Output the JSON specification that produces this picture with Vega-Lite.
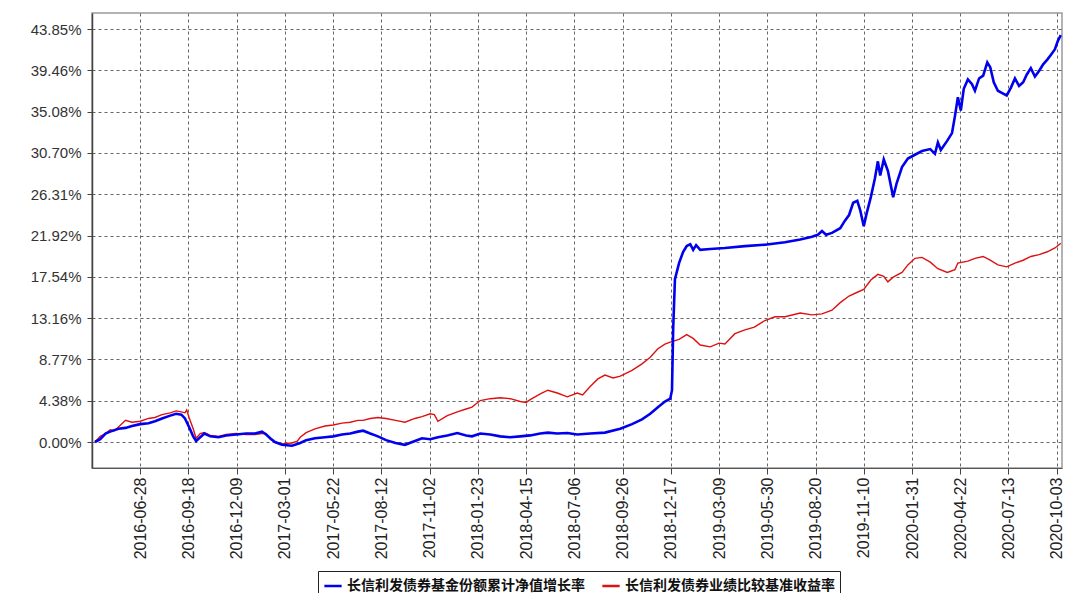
{
  "$schema": "https://vega.github.io/schema/vega-lite/v6.json",
  "width": 970,
  "height": 455,
  "autosize": {"type": "none"},
  "padding": {"left": 92, "top": 13, "right": 4, "bottom": 125},
  "background": "#ffffff",
  "config": {
    "view": {"stroke": "#9a9a9a", "strokeWidth": 1.5},
    "font": "Liberation Sans"
  },
  "encoding": {
    "x": {
      "field": "date",
      "type": "temporal",
      "scale": {"type": "utc", "domain": [{"year": 2016, "month": 4, "date": 7, "utc": true}, {"year": 2020, "month": 10, "date": 12, "utc": true}]},
      "axis": {
        "title": null,
        "values": [
          {"year": 2016, "month": 6, "date": 28, "utc": true},
          {"year": 2016, "month": 9, "date": 18, "utc": true},
          {"year": 2016, "month": 12, "date": 9, "utc": true},
          {"year": 2017, "month": 3, "date": 1, "utc": true},
          {"year": 2017, "month": 5, "date": 22, "utc": true},
          {"year": 2017, "month": 8, "date": 12, "utc": true},
          {"year": 2017, "month": 11, "date": 2, "utc": true},
          {"year": 2018, "month": 1, "date": 23, "utc": true},
          {"year": 2018, "month": 4, "date": 15, "utc": true},
          {"year": 2018, "month": 7, "date": 6, "utc": true},
          {"year": 2018, "month": 9, "date": 26, "utc": true},
          {"year": 2018, "month": 12, "date": 17, "utc": true},
          {"year": 2019, "month": 3, "date": 9, "utc": true},
          {"year": 2019, "month": 5, "date": 30, "utc": true},
          {"year": 2019, "month": 8, "date": 20, "utc": true},
          {"year": 2019, "month": 11, "date": 10, "utc": true},
          {"year": 2020, "month": 1, "date": 31, "utc": true},
          {"year": 2020, "month": 4, "date": 22, "utc": true},
          {"year": 2020, "month": 7, "date": 13, "utc": true},
          {"year": 2020, "month": 10, "date": 3, "utc": true}
        ],
        "labelExpr": "utcFormat(datum.value, '%Y-%m-%d')",
        "labelAngle": 270,
        "labelFontSize": 16,
        "labelColor": "#222222",
        "labelPadding": 3,
        "tickSize": 6,
        "tickColor": "#444444",
        "domainColor": "#555555",
        "grid": true,
        "gridColor": "#555555",
        "gridDash": [3, 3],
        "gridOpacity": 0.9
      }
    },
    "y": {
      "field": "value",
      "type": "quantitative",
      "scale": {"domain": [-2.76, 45.55], "nice": false, "zero": false},
      "axis": {
        "title": null,
        "values": [0, 4.38, 8.77, 13.16, 17.54, 21.92, 26.31, 30.70, 35.08, 39.46, 43.85],
        "labelExpr": "format(datum.value, '.2f') + '%'",
        "labelFontSize": 15,
        "labelColor": "#333333",
        "labelPadding": 6,
        "tickSize": 5,
        "tickColor": "#444444",
        "domainColor": "#444444",
        "domainWidth": 1.5,
        "grid": true,
        "gridColor": "#555555",
        "gridDash": [3, 3],
        "gridOpacity": 0.9
      }
    },
    "color": {
      "type": "nominal",
      "scale": {
        "domain": ["长信利发债券基金份额累计净值增长率", "长信利发债券业绩比较基准收益率"],
        "range": ["#0000ee", "#dd1111"]
      },
      "legend": {
        "title": null,
        "orient": "none",
        "legendX": 226,
        "legendY": 558,
        "direction": "horizontal",
        "symbolType": "stroke",
        "symbolSize": 300,
        "symbolStrokeWidth": 2.5,
        "labelFont": "Noto Sans CJK SC",
        "labelFontSize": 14,
        "labelFontWeight": "bold",
        "labelColor": "#111111",
        "labelLimit": 400,
        "columnPadding": 12,
        "strokeColor": "#222222",
        "padding": 5,
        "fillColor": "#ffffff"
      }
    }
  },
  "layer": [
    {
      "data": {"values": [
        {"date": "2016-04-12", "value": 0.0},
        {"date": "2016-04-21", "value": 0.6},
        {"date": "2016-04-30", "value": 0.9},
        {"date": "2016-05-08", "value": 1.3},
        {"date": "2016-05-15", "value": 1.2},
        {"date": "2016-05-22", "value": 1.6},
        {"date": "2016-06-03", "value": 2.3},
        {"date": "2016-06-14", "value": 2.1},
        {"date": "2016-06-28", "value": 2.2},
        {"date": "2016-07-12", "value": 2.5},
        {"date": "2016-07-23", "value": 2.6},
        {"date": "2016-08-04", "value": 2.9},
        {"date": "2016-08-18", "value": 3.1},
        {"date": "2016-08-28", "value": 3.3},
        {"date": "2016-09-06", "value": 3.2},
        {"date": "2016-09-12", "value": 3.1},
        {"date": "2016-09-15", "value": 3.4},
        {"date": "2016-09-19", "value": 2.6},
        {"date": "2016-09-26", "value": 1.4},
        {"date": "2016-10-01", "value": 0.4},
        {"date": "2016-10-08", "value": 0.9},
        {"date": "2016-10-15", "value": 1.0},
        {"date": "2016-10-25", "value": 0.7},
        {"date": "2016-11-08", "value": 0.6},
        {"date": "2016-11-21", "value": 0.8},
        {"date": "2016-12-08", "value": 0.9},
        {"date": "2016-12-25", "value": 0.8},
        {"date": "2017-01-09", "value": 0.8},
        {"date": "2017-01-21", "value": 0.9},
        {"date": "2017-01-28", "value": 0.9},
        {"date": "2017-02-04", "value": 0.3},
        {"date": "2017-02-12", "value": 0.0},
        {"date": "2017-02-24", "value": -0.2},
        {"date": "2017-03-13", "value": -0.1},
        {"date": "2017-03-22", "value": 0.1},
        {"date": "2017-03-27", "value": 0.5},
        {"date": "2017-04-06", "value": 1.0},
        {"date": "2017-04-21", "value": 1.4},
        {"date": "2017-05-08", "value": 1.7},
        {"date": "2017-05-22", "value": 1.8},
        {"date": "2017-06-06", "value": 2.0},
        {"date": "2017-06-20", "value": 2.1},
        {"date": "2017-07-03", "value": 2.3},
        {"date": "2017-07-12", "value": 2.3},
        {"date": "2017-07-24", "value": 2.5},
        {"date": "2017-08-06", "value": 2.6},
        {"date": "2017-08-20", "value": 2.5},
        {"date": "2017-09-05", "value": 2.3},
        {"date": "2017-09-21", "value": 2.1},
        {"date": "2017-10-08", "value": 2.5},
        {"date": "2017-10-20", "value": 2.7},
        {"date": "2017-11-03", "value": 3.0},
        {"date": "2017-11-10", "value": 2.9},
        {"date": "2017-11-16", "value": 2.2},
        {"date": "2017-12-02", "value": 2.8},
        {"date": "2017-12-19", "value": 3.2},
        {"date": "2018-01-03", "value": 3.5},
        {"date": "2018-01-13", "value": 3.7},
        {"date": "2018-01-27", "value": 4.4},
        {"date": "2018-02-13", "value": 4.6},
        {"date": "2018-03-02", "value": 4.7},
        {"date": "2018-03-19", "value": 4.6},
        {"date": "2018-04-05", "value": 4.3},
        {"date": "2018-04-15", "value": 4.2},
        {"date": "2018-04-22", "value": 4.5},
        {"date": "2018-05-09", "value": 5.1},
        {"date": "2018-05-22", "value": 5.5},
        {"date": "2018-06-07", "value": 5.2},
        {"date": "2018-06-24", "value": 4.8},
        {"date": "2018-07-11", "value": 5.2},
        {"date": "2018-07-20", "value": 5.0},
        {"date": "2018-08-02", "value": 5.9},
        {"date": "2018-08-15", "value": 6.7},
        {"date": "2018-08-27", "value": 7.1},
        {"date": "2018-09-10", "value": 6.8},
        {"date": "2018-09-22", "value": 7.0},
        {"date": "2018-10-12", "value": 7.6},
        {"date": "2018-10-29", "value": 8.3},
        {"date": "2018-11-12", "value": 9.0},
        {"date": "2018-11-25", "value": 9.9},
        {"date": "2018-12-07", "value": 10.4},
        {"date": "2018-12-16", "value": 10.6},
        {"date": "2018-12-31", "value": 10.9},
        {"date": "2019-01-13", "value": 11.4},
        {"date": "2019-01-24", "value": 11.0},
        {"date": "2019-02-05", "value": 10.3},
        {"date": "2019-02-22", "value": 10.1},
        {"date": "2019-03-09", "value": 10.5},
        {"date": "2019-03-19", "value": 10.4},
        {"date": "2019-04-05", "value": 11.5},
        {"date": "2019-04-22", "value": 11.9},
        {"date": "2019-05-08", "value": 12.2},
        {"date": "2019-05-26", "value": 12.9},
        {"date": "2019-06-12", "value": 13.3},
        {"date": "2019-06-29", "value": 13.3},
        {"date": "2019-07-25", "value": 13.7},
        {"date": "2019-08-14", "value": 13.5},
        {"date": "2019-08-31", "value": 13.6},
        {"date": "2019-09-17", "value": 14.0},
        {"date": "2019-10-01", "value": 14.8},
        {"date": "2019-10-16", "value": 15.5},
        {"date": "2019-10-30", "value": 15.9},
        {"date": "2019-11-10", "value": 16.2},
        {"date": "2019-11-22", "value": 17.2},
        {"date": "2019-12-04", "value": 17.8},
        {"date": "2019-12-14", "value": 17.6},
        {"date": "2019-12-21", "value": 17.0},
        {"date": "2019-12-30", "value": 17.5},
        {"date": "2020-01-14", "value": 18.0},
        {"date": "2020-01-24", "value": 18.8},
        {"date": "2020-02-05", "value": 19.5},
        {"date": "2020-02-17", "value": 19.6},
        {"date": "2020-03-02", "value": 19.1},
        {"date": "2020-03-15", "value": 18.4},
        {"date": "2020-03-31", "value": 18.0},
        {"date": "2020-04-13", "value": 18.3},
        {"date": "2020-04-18", "value": 19.0},
        {"date": "2020-05-05", "value": 19.2},
        {"date": "2020-05-17", "value": 19.5},
        {"date": "2020-05-31", "value": 19.7},
        {"date": "2020-06-12", "value": 19.3},
        {"date": "2020-06-25", "value": 18.8},
        {"date": "2020-07-10", "value": 18.6},
        {"date": "2020-07-24", "value": 19.0},
        {"date": "2020-08-07", "value": 19.3},
        {"date": "2020-08-20", "value": 19.7},
        {"date": "2020-09-03", "value": 19.9},
        {"date": "2020-09-17", "value": 20.2},
        {"date": "2020-09-30", "value": 20.6},
        {"date": "2020-10-10", "value": 21.1}
      ]},
      "mark": {"type": "line", "strokeWidth": 1.4, "interpolate": "linear"},
      "encoding": {
        "color": {"datum": "长信利发债券业绩比较基准收益率"}
      }
    },
    {
      "data": {"values": [
        {"date": "2016-04-12", "value": 0.0},
        {"date": "2016-04-21", "value": 0.3},
        {"date": "2016-04-30", "value": 0.9},
        {"date": "2016-05-08", "value": 1.1},
        {"date": "2016-05-22", "value": 1.4},
        {"date": "2016-06-03", "value": 1.5},
        {"date": "2016-06-14", "value": 1.7},
        {"date": "2016-06-28", "value": 1.9},
        {"date": "2016-07-12", "value": 2.0},
        {"date": "2016-07-23", "value": 2.2},
        {"date": "2016-08-04", "value": 2.5},
        {"date": "2016-08-18", "value": 2.8},
        {"date": "2016-08-28", "value": 3.0},
        {"date": "2016-09-06", "value": 2.9},
        {"date": "2016-09-12", "value": 2.5},
        {"date": "2016-09-19", "value": 1.6},
        {"date": "2016-09-26", "value": 0.6},
        {"date": "2016-10-01", "value": 0.1},
        {"date": "2016-10-08", "value": 0.5},
        {"date": "2016-10-15", "value": 0.9},
        {"date": "2016-10-25", "value": 0.6},
        {"date": "2016-11-08", "value": 0.5},
        {"date": "2016-11-21", "value": 0.7},
        {"date": "2016-12-08", "value": 0.8},
        {"date": "2016-12-25", "value": 0.9},
        {"date": "2017-01-09", "value": 0.9},
        {"date": "2017-01-21", "value": 1.1},
        {"date": "2017-01-28", "value": 0.8},
        {"date": "2017-02-04", "value": 0.4},
        {"date": "2017-02-12", "value": 0.0},
        {"date": "2017-02-24", "value": -0.3},
        {"date": "2017-03-13", "value": -0.4},
        {"date": "2017-03-27", "value": -0.1},
        {"date": "2017-04-06", "value": 0.2},
        {"date": "2017-04-21", "value": 0.4},
        {"date": "2017-05-08", "value": 0.5},
        {"date": "2017-05-22", "value": 0.6},
        {"date": "2017-06-06", "value": 0.8},
        {"date": "2017-06-20", "value": 0.9},
        {"date": "2017-07-03", "value": 1.1},
        {"date": "2017-07-12", "value": 1.2},
        {"date": "2017-07-24", "value": 0.9},
        {"date": "2017-08-06", "value": 0.6},
        {"date": "2017-08-20", "value": 0.2},
        {"date": "2017-09-05", "value": -0.1},
        {"date": "2017-09-21", "value": -0.3},
        {"date": "2017-10-08", "value": 0.1},
        {"date": "2017-10-20", "value": 0.4},
        {"date": "2017-11-03", "value": 0.3},
        {"date": "2017-11-16", "value": 0.5},
        {"date": "2017-12-02", "value": 0.7},
        {"date": "2017-12-19", "value": 0.95},
        {"date": "2018-01-03", "value": 0.7},
        {"date": "2018-01-13", "value": 0.6},
        {"date": "2018-01-27", "value": 0.9},
        {"date": "2018-02-13", "value": 0.8},
        {"date": "2018-03-02", "value": 0.6},
        {"date": "2018-03-19", "value": 0.5},
        {"date": "2018-04-05", "value": 0.6},
        {"date": "2018-04-22", "value": 0.7},
        {"date": "2018-05-09", "value": 0.9},
        {"date": "2018-05-22", "value": 1.0},
        {"date": "2018-06-07", "value": 0.9},
        {"date": "2018-06-24", "value": 0.95},
        {"date": "2018-07-11", "value": 0.8},
        {"date": "2018-08-02", "value": 0.9},
        {"date": "2018-08-27", "value": 1.0},
        {"date": "2018-09-22", "value": 1.4},
        {"date": "2018-10-12", "value": 1.9},
        {"date": "2018-10-29", "value": 2.4},
        {"date": "2018-11-12", "value": 3.0},
        {"date": "2018-11-25", "value": 3.7},
        {"date": "2018-12-07", "value": 4.3},
        {"date": "2018-12-16", "value": 4.6},
        {"date": "2018-12-19", "value": 5.5},
        {"date": "2018-12-21", "value": 12.0},
        {"date": "2018-12-24", "value": 17.3},
        {"date": "2018-12-31", "value": 19.0},
        {"date": "2019-01-07", "value": 20.2},
        {"date": "2019-01-13", "value": 20.8},
        {"date": "2019-01-19", "value": 21.0},
        {"date": "2019-01-24", "value": 20.4},
        {"date": "2019-01-29", "value": 20.9},
        {"date": "2019-02-05", "value": 20.4},
        {"date": "2019-02-22", "value": 20.5},
        {"date": "2019-03-19", "value": 20.6},
        {"date": "2019-04-22", "value": 20.8},
        {"date": "2019-05-26", "value": 20.95},
        {"date": "2019-06-29", "value": 21.2},
        {"date": "2019-07-25", "value": 21.5},
        {"date": "2019-08-14", "value": 21.8},
        {"date": "2019-08-24", "value": 22.0},
        {"date": "2019-08-31", "value": 22.4},
        {"date": "2019-09-07", "value": 22.0},
        {"date": "2019-09-17", "value": 22.2},
        {"date": "2019-10-01", "value": 22.7},
        {"date": "2019-10-09", "value": 23.5},
        {"date": "2019-10-16", "value": 24.1},
        {"date": "2019-10-23", "value": 25.4},
        {"date": "2019-10-30", "value": 25.6},
        {"date": "2019-11-04", "value": 24.6},
        {"date": "2019-11-10", "value": 22.9},
        {"date": "2019-11-15", "value": 24.3},
        {"date": "2019-11-22", "value": 26.0},
        {"date": "2019-11-29", "value": 28.0},
        {"date": "2019-12-04", "value": 29.8},
        {"date": "2019-12-08", "value": 28.3},
        {"date": "2019-12-14", "value": 30.0},
        {"date": "2019-12-21", "value": 28.8},
        {"date": "2019-12-30", "value": 26.0},
        {"date": "2020-01-05", "value": 27.5},
        {"date": "2020-01-14", "value": 29.2},
        {"date": "2020-01-24", "value": 30.1},
        {"date": "2020-02-05", "value": 30.5},
        {"date": "2020-02-17", "value": 30.9},
        {"date": "2020-03-02", "value": 31.1},
        {"date": "2020-03-10", "value": 30.6},
        {"date": "2020-03-15", "value": 31.8},
        {"date": "2020-03-20", "value": 31.0},
        {"date": "2020-03-31", "value": 32.0},
        {"date": "2020-04-08", "value": 32.8},
        {"date": "2020-04-13", "value": 34.6},
        {"date": "2020-04-18", "value": 36.6},
        {"date": "2020-04-23", "value": 35.2},
        {"date": "2020-04-28", "value": 37.5},
        {"date": "2020-05-05", "value": 38.5},
        {"date": "2020-05-12", "value": 38.0},
        {"date": "2020-05-17", "value": 37.3},
        {"date": "2020-05-24", "value": 38.6},
        {"date": "2020-05-31", "value": 38.9},
        {"date": "2020-06-07", "value": 40.3},
        {"date": "2020-06-12", "value": 39.8},
        {"date": "2020-06-18", "value": 38.2},
        {"date": "2020-06-25", "value": 37.3},
        {"date": "2020-07-04", "value": 37.0},
        {"date": "2020-07-10", "value": 36.8},
        {"date": "2020-07-17", "value": 37.6},
        {"date": "2020-07-24", "value": 38.6},
        {"date": "2020-07-31", "value": 37.8},
        {"date": "2020-08-07", "value": 38.2},
        {"date": "2020-08-13", "value": 39.0},
        {"date": "2020-08-20", "value": 39.7},
        {"date": "2020-08-27", "value": 38.8},
        {"date": "2020-09-03", "value": 39.4},
        {"date": "2020-09-10", "value": 40.1},
        {"date": "2020-09-17", "value": 40.6},
        {"date": "2020-09-23", "value": 41.1},
        {"date": "2020-09-30", "value": 41.7},
        {"date": "2020-10-05", "value": 42.6},
        {"date": "2020-10-10", "value": 43.2}
      ]},
      "mark": {"type": "line", "strokeWidth": 2.6, "interpolate": "linear"},
      "encoding": {
        "color": {"datum": "长信利发债券基金份额累计净值增长率"}
      }
    }
  ],
  "resolve": {"scale": {"color": "shared"}}
}
